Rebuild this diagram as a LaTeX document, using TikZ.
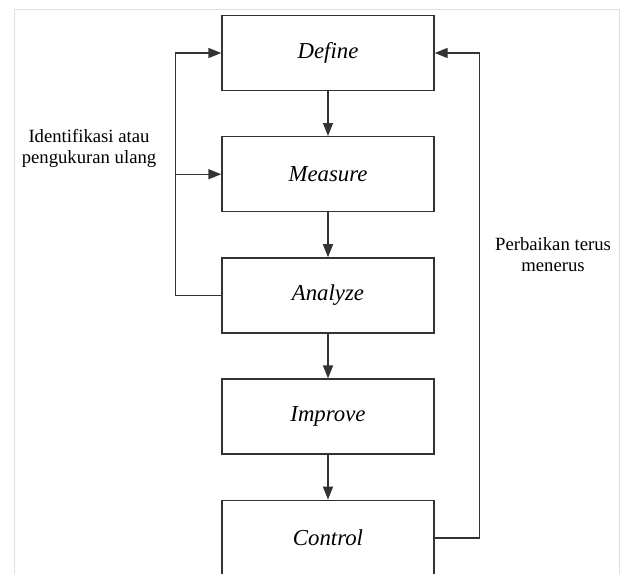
\documentclass[tikz,border=0pt]{standalone}
\usepackage{fontspec}
\setmainfont{Liberation Serif}
\usetikzlibrary{arrows.meta,positioning}
\tikzset{
  phase/.style={draw=black!80, line width=1.4pt, minimum width=212pt, minimum height=75pt, inner sep=0pt, align=center, font=\fontsize{22.8}{27}\selectfont\itshape, fill=none},
  note/.style={align=center, font=\fontsize{18.7}{21}\selectfont},
  flow/.style={-{Triangle[length=13pt,width=10pt]}, line width=1.4pt, draw=black!80}
}

\begin{document}
\begin{tikzpicture}[x=1pt, y=-1pt, node distance=44.8pt]
  \useasboundingbox (0,0) rectangle (621,573);
  \clip (0,0) rectangle (621,573);
  \draw[black!12, line width=1pt] (14,9) rectangle (619.5,600);

  \node[phase] (define) at (328,53) {Define};
  \node[phase, below=of define] (measure) {Measure};
  \node[phase, below=of measure] (analyze) {Analyze};
  \node[phase, below=of analyze] (improve) {Improve};
  \node[phase, below=of improve] (control) {Control};

  \node[note] (identify) at (89,148) {Identifikasi atau\\pengukuran ulang};
  \node[note] (repair) at (553,255) {Perbaikan terus\\menerus};

  \draw[flow] (define) -- (measure);
  \draw[flow] (measure) -- (analyze);
  \draw[flow] (analyze) -- (improve);
  \draw[flow] (improve) -- (control);

  \draw[flow] (analyze.west) -- ++(-46,0) |- (define.west);
  \draw[flow] ([xshift=-46pt]measure.west) -- (measure.west);
  \draw[flow] (control.east) -- ++(45,0) |- (define.east);
\end{tikzpicture}
\end{document}
